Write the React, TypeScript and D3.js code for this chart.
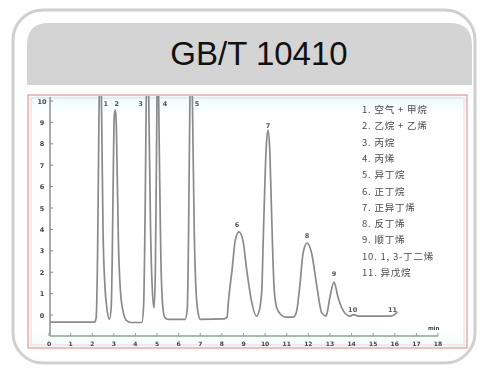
import { useEffect, useRef } from 'react';
import * as d3 from 'd3';

// chromatogram trace: time (min) and signal (mV)
const TRACE_T = [
  0.05, 1.0, 2.1, 2.18, 2.25, 2.31, 2.37, 2.44, 2.5, 2.58, 2.68, 2.8,
  2.88, 2.93, 2.98, 3.02, 3.06, 3.1, 3.15, 3.21, 3.3, 3.42, 3.58, 3.8,
  4.3, 4.38, 4.45, 4.51, 4.57, 4.63, 4.7, 4.78, 4.86, 4.92, 4.97, 5.03,
  5.1, 5.17, 5.25, 5.35, 5.5, 6.3, 6.4, 6.46, 6.52, 6.58, 6.65, 6.72,
  6.8, 6.9, 7.0, 8.1, 8.24, 8.3, 8.47, 8.62, 8.79, 8.97, 9.15, 9.38,
  9.6, 9.75, 9.85, 9.9, 9.97, 10.05, 10.13, 10.21, 10.28, 10.35, 10.42, 10.55,
  10.75, 10.95, 11.3, 11.45, 11.6, 11.76, 11.94, 12.15, 12.4, 12.62, 12.82, 12.87,
  13.0, 13.19, 13.37, 13.6, 13.93, 14.1, 14.3, 15.8, 16.0, 16.12,
];
const TRACE_MV = [
  -0.33, -0.33, -0.33, -0.15, 3, 9, 13, 9, 4, 1.5, 0.3, -0.2,
  0.4, 3, 7, 9.3, 9.58, 9.3, 7, 3.5, 1.2, 0.2, -0.25, -0.35,
  -0.35, 0.5, 5, 11, 13, 9, 4, 1.2, 0.33, 2, 7, 13,
  8, 3, 0.6, -0.1, -0.2, -0.2, 0.3, 4, 10, 13, 9, 4,
  1.2, 0.1, -0.2, -0.18, -0.1, 0.6, 2.1, 3.5, 3.88, 3.5, 2.1, 0.6,
  -0.05, 0.3, 1.2, 3, 5.5, 7.8, 8.64, 7.8, 5.5, 3, 1.2, 0.3,
  0, -0.1, -0.1, 0.14, 1.3, 2.9, 3.36, 2.9, 1.3, 0.1, -0.05, 0.1,
  0.84, 1.54, 0.84, 0.23, -0.05, 0.02, -0.05, -0.05, 0.03, 0.15,
];

// peak number annotations (time, signal)
const PEAK_IDS = ['1', '2', '3', '4', '5', '6', '7', '8', '9', '10', '11'];
const PEAK_LABEL_T = [2.63, 3.13, 4.23, 5.37, 6.85, 8.7, 10.13, 11.94, 13.19, 14.05, 15.9];
const PEAK_LABEL_MV = [9.77, 9.77, 9.77, 9.77, 9.77, 4.1, 8.74, 3.6, 1.82, 0.14, 0.14];

const LEGEND = [
  '1. 空气 + 甲烷',
  '2. 乙烷 + 乙烯',
  '3. 丙烷',
  '4. 丙烯',
  '5. 异丁烷',
  '6. 正丁烷',
  '7. 正异丁烯',
  '8. 反丁烯',
  '9. 顺丁烯',
  '10. 1, 3-丁二烯',
  '11. 异戊烷',
];

const X_TICKS = d3.range(0, 19);
const Y_TICKS = d3.range(0, 11);
const TITLE = 'GB/T 10410';

export default function App() {
  const ref = useRef<SVGSVGElement>(null);

  useEffect(() => {
    if (!ref.current) return;
    const width = 484, height = 368;
    const svg = d3.select(ref.current);
    svg.selectAll('*').remove();
    svg.attr('width', width).attr('height', height);

    const defs = svg.append('defs');
    defs.append('filter').attr('id', 'soft')
      .append('feGaussianBlur').attr('stdDeviation', 0.4);
    defs.append('clipPath').attr('id', 'plotclip')
      .append('rect').attr('x', 29).attr('y', 96).attr('width', 437).attr('height', 250);
    const grad = defs.append('linearGradient').attr('id', 'tint')
      .attr('x1', 0).attr('y1', 0).attr('x2', 0).attr('y2', 1);
    grad.append('stop').attr('offset', 0).attr('stop-color', '#eafaff');
    grad.append('stop').attr('offset', 0.08).attr('stop-color', '#ffffff');
    grad.append('stop').attr('offset', 0.93).attr('stop-color', '#ffffff');
    grad.append('stop').attr('offset', 1).attr('stop-color', '#eefbf8');

    // card
    svg.append('rect').attr('x', 13).attr('y', 10).attr('width', 462).attr('height', 353)
      .attr('rx', 30).attr('fill', '#fff').attr('stroke', '#cfcfcf').attr('stroke-width', 3);

    // header band, rounded on top only
    const hx = 27, hy = 23, hw = 445, hh = 62, r = 22;
    svg.append('path')
      .attr('d', `M${hx},${hy + hh} V${hy + r} Q${hx},${hy} ${hx + r},${hy} H${hx + hw - r} Q${hx + hw},${hy} ${hx + hw},${hy + r} V${hy + hh} Z`)
      .attr('fill', '#d4d4d4');
    svg.append('text').attr('x', 259).attr('y', 65).attr('text-anchor', 'middle')
      .attr('font-family', '"Liberation Sans", Arial, sans-serif').attr('font-size', 33)
      .attr('fill', '#111').text(TITLE);

    // chromatogram picture
    const g = svg.append('g').attr('filter', 'url(#soft)');
    g.append('rect').attr('x', 28).attr('y', 95).attr('width', 439).attr('height', 253)
      .attr('fill', 'url(#tint)').attr('stroke', '#e39a9a').attr('stroke-width', 1.2);
    g.append('rect').attr('x', 31).attr('y', 98).attr('width', 433).attr('height', 247)
      .attr('fill', 'none').attr('stroke', '#f4d4d4').attr('stroke-width', 1);

    const x = d3.scaleLinear().domain([0, 18]).range([49, 438]);
    const y = d3.scaleLinear().domain([0, 10]).range([315, 101]);

    // axes
    g.append('line').attr('x1', 50).attr('x2', 50).attr('y1', 97).attr('y2', 336)
      .attr('stroke', '#8e8296').attr('stroke-width', 1.4);
    g.append('line').attr('x1', 50).attr('x2', 438).attr('y1', 336).attr('y2', 336)
      .attr('stroke', '#8ea592').attr('stroke-width', 1.4);

    g.append('g').selectAll('line').data(Y_TICKS).join('line')
      .attr('x1', 50).attr('x2', 53).attr('y1', d => y(d)).attr('y2', d => y(d))
      .attr('stroke', '#8e8296');
    g.append('g').selectAll('text').data(Y_TICKS).join('text')
      .attr('x', 42).attr('y', d => y(d) + 2.5).attr('text-anchor', 'middle')
      .attr('font-family', 'DejaVu Sans, sans-serif').attr('font-size', 6.5).attr('font-weight', 'bold')
      .attr('fill', '#444').text(d => String(d));

    g.append('g').selectAll('line').data(X_TICKS).join('line')
      .attr('x1', d => x(d)).attr('x2', d => x(d)).attr('y1', 336).attr('y2', 333)
      .attr('stroke', '#8ea592');
    g.append('g').selectAll('text').data(X_TICKS).join('text')
      .attr('x', d => x(d)).attr('y', 345.5).attr('text-anchor', 'middle')
      .attr('font-family', 'DejaVu Sans, sans-serif').attr('font-size', 6).attr('font-weight', 'bold')
      .attr('fill', '#444').text(d => String(d));
    g.append('text').attr('x', x(17.8)).attr('y', 330).attr('text-anchor', 'middle')
      .attr('font-family', 'DejaVu Sans, sans-serif').attr('font-size', 5.5).attr('font-weight', 'bold')
      .attr('fill', '#444').text('min');

    // trace
    const pts = TRACE_T.map((t, i) => [t, TRACE_MV[i]] as [number, number]);
    const line = d3.line<[number, number]>()
      .x(d => x(d[0])).y(d => y(d[1]))
      .curve(d3.curveMonotoneX);
    g.append('path').datum(pts)
      .attr('clip-path', 'url(#plotclip)')
      .attr('fill', 'none').attr('stroke', '#8a8a8a').attr('stroke-width', 1.7)
      .attr('stroke-linejoin', 'round').attr('d', line);

    // peak numbers
    g.append('g').selectAll('text').data(PEAK_IDS).join('text')
      .attr('x', (_, i) => x(PEAK_LABEL_T[i])).attr('y', (_, i) => y(PEAK_LABEL_MV[i]))
      .attr('text-anchor', 'middle')
      .attr('font-family', 'DejaVu Sans, sans-serif').attr('font-size', 6.5).attr('font-weight', 'bold')
      .attr('fill', '#555').text(d => d);

    // legend
    g.append('g').selectAll('text').data(LEGEND).join('text')
      .attr('x', 362).attr('y', (_, i) => 113 + i * 16.3)
      .attr('font-family', '"Noto Sans CJK SC", sans-serif').attr('font-size', 9.5)
      .attr('letter-spacing', 0.8).attr('fill', '#4a4a4a').text(d => d);
  }, []);

  return <svg ref={ref} style={{ position: 'absolute', left: 0, top: 0 }} />;
}
